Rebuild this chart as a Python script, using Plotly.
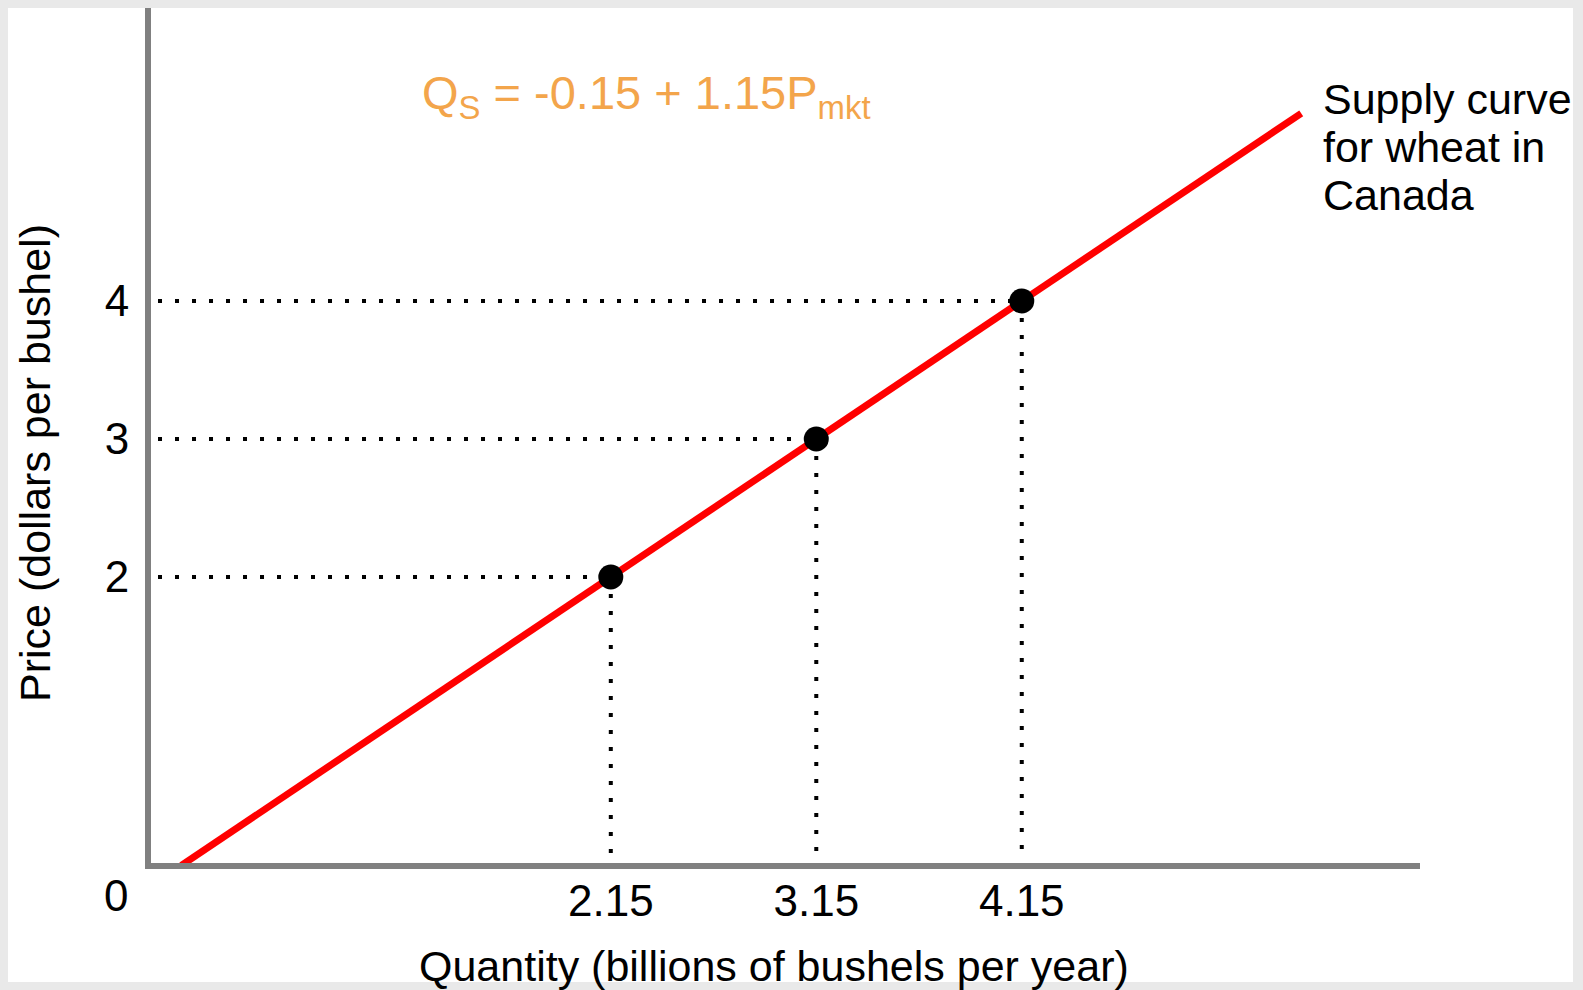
import plotly.graph_objects as go

# ---- data ----
quantity_pts = [2.15, 3.15, 4.15]        # billions of bushels per year
price_pts = [2, 3, 4]                     # dollars per bushel
supply_q = [0.06, 5.51]                   # supply line endpoints (quantity)
supply_p = [-0.09, 5.36]                  # supply line endpoints (price)
x_tick_vals = [2.15, 3.15, 4.15]
x_tick_text = ["2.15", "3.15", "4.15"]
y_tick_vals = [2, 3, 4]
y_tick_text = ["2", "3", "4"]

# ---- layout constants (pixels) ----
W, H = 1583, 990
L, R, T, B = 151, 1420, 8, 863
XR = [-0.0876, 6.088]
YR = [-0.0725, 6.123]
GUIDE_X0 = -0.0535
GUIDE_Y0 = -0.036

FONT = "Liberation Sans, Arial, Helvetica, sans-serif"


def px2paper(px, py):
    return (px - L) / (R - L), (B - py) / (B - T)


fig = go.Figure()

# dotted guide lines
for q, p in zip(quantity_pts, price_pts):
    fig.add_trace(go.Scatter(
        x=[GUIDE_X0, q], y=[p, p], mode="lines",
        line=dict(color="black", width=4, dash="4px,13px"),
        hoverinfo="skip", showlegend=False))
    fig.add_trace(go.Scatter(
        x=[q, q], y=[p, GUIDE_Y0], mode="lines",
        line=dict(color="black", width=4, dash="4px,13px"),
        hoverinfo="skip", showlegend=False))

# supply curve
fig.add_trace(go.Scatter(
    x=supply_q, y=supply_p, mode="lines",
    line=dict(color="#ff0000", width=7),
    hoverinfo="skip", showlegend=False))

# points
fig.add_trace(go.Scatter(
    x=quantity_pts, y=price_pts, mode="markers",
    marker=dict(color="black", size=25, line=dict(width=0)),
    hoverinfo="skip", showlegend=False))

annotations = []


def add_text(text, px, py, size, color="black", xanchor="center", yanchor="middle", angle=0):
    ax, ay = px2paper(px, py)
    annotations.append(dict(
        text=text, x=ax, y=ay, xref="paper", yref="paper",
        xanchor=xanchor, yanchor=yanchor, showarrow=False, textangle=angle,
        font=dict(family=FONT, size=size, color=color)))


add_text("0", 116, 895, 44)
add_text("Price (dollars per bushel)", 35, 463, 43, angle=-90)
add_text("Quantity (billions of bushels per year)", 774, 966, 43)
add_text("Q<sub>S</sub> = -0.15 + 1.15P<sub>mkt</sub>", 420, 96, 47,
         color="rgb(243,165,75)", xanchor="left")
for line, y in zip(["Supply curve", "for wheat in", "Canada"], [99, 147, 195]):
    add_text(line, 1321, y, 43, xanchor="left")

sx0, sy0 = px2paper(8, 982)
sx1, sy1 = px2paper(1573, 8)

fig.update_layout(
    width=W, height=H,
    margin=dict(l=L, r=W - R, t=T, b=H - B, pad=0),
    paper_bgcolor="#e9e9e9",
    plot_bgcolor="white",
    showlegend=False,
    annotations=annotations,
    shapes=[dict(type="rect", xref="paper", yref="paper",
                 x0=sx0, x1=sx1, y0=sy0, y1=sy1,
                 fillcolor="white", line=dict(width=0), layer="below")],
    xaxis=dict(range=XR, showgrid=False, zeroline=False, showline=True,
               linecolor="#808080", linewidth=6, ticks="",
               tickvals=x_tick_vals, ticktext=x_tick_text,
               ticklabelstandoff=-6,
               tickfont=dict(family=FONT, size=44, color="black")),
    yaxis=dict(range=YR, showgrid=False, zeroline=False, showline=True,
               linecolor="#808080", linewidth=6, ticks="",
               tickvals=y_tick_vals, ticktext=y_tick_text,
               ticklabelstandoff=7,
               tickfont=dict(family=FONT, size=44, color="black")),
)

fig.write_html("out.html", config={"displayModeBar": False},
               post_script="document.body.style.margin='0';document.body.style.overflow='hidden';")
